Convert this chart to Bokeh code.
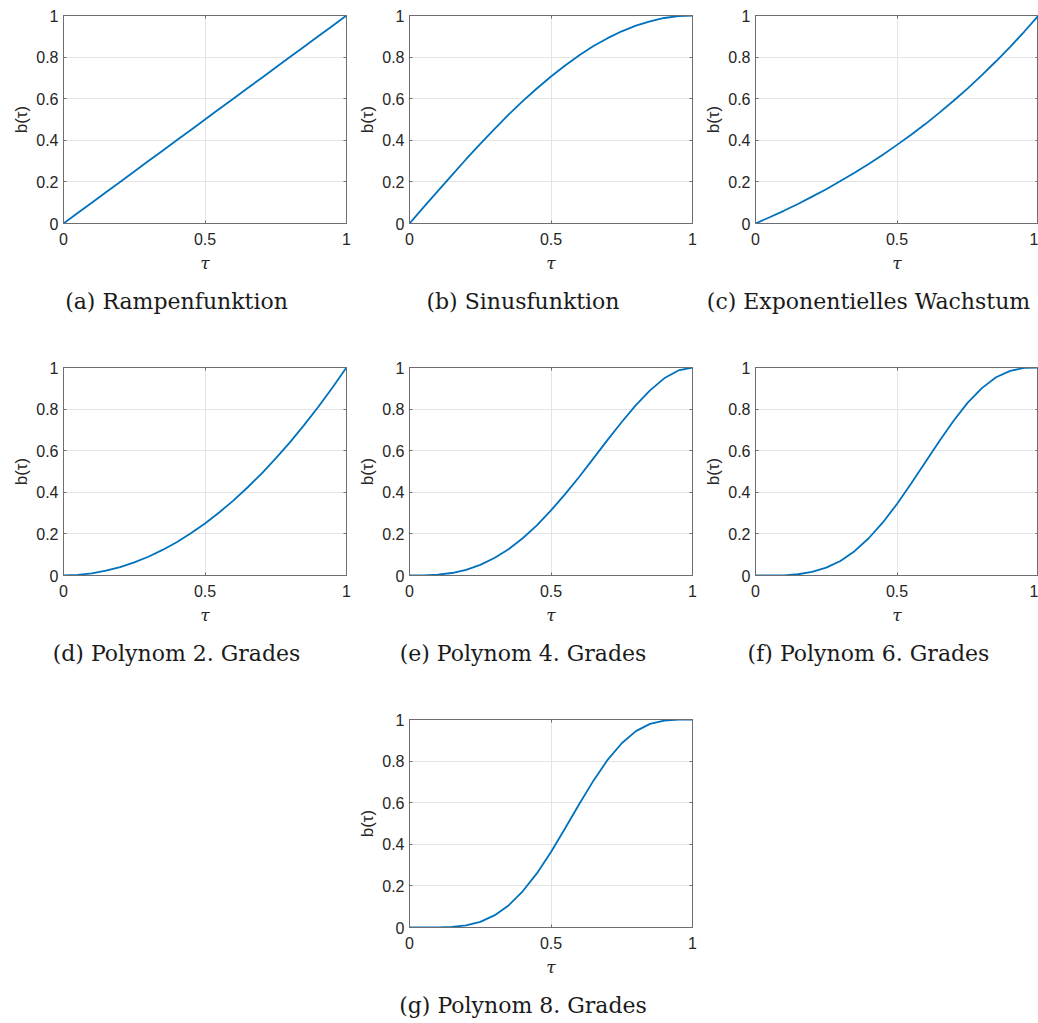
from bokeh.plotting import figure
from bokeh.models import Range1d, LinearAxis, FixedTicker, Spacer, Div
from bokeh.layouts import row, column
from bokeh.embed import file_html
from bokeh.resources import INLINE

# ---- data -------------------------------------------------------------
tau = [0.00, 0.05, 0.10, 0.15, 0.20, 0.25, 0.30, 0.35, 0.40, 0.45, 0.50,
       0.55, 0.60, 0.65, 0.70, 0.75, 0.80, 0.85, 0.90, 0.95, 1.00]

ramp = [0.00, 0.05, 0.10, 0.15, 0.20, 0.25, 0.30, 0.35, 0.40, 0.45, 0.50,
        0.55, 0.60, 0.65, 0.70, 0.75, 0.80, 0.85, 0.90, 0.95, 1.00]

sinus = [0.000, 0.079, 0.156, 0.233, 0.309, 0.383, 0.454, 0.523, 0.588, 0.649, 0.707,
         0.760, 0.809, 0.853, 0.891, 0.924, 0.951, 0.972, 0.988, 0.997, 1.000]

expo = [0.000, 0.030, 0.061, 0.094, 0.129, 0.165, 0.204, 0.244, 0.286, 0.331, 0.378,
        0.427, 0.478, 0.533, 0.590, 0.650, 0.713, 0.780, 0.849, 0.923, 1.000]

poly2 = [0.000, 0.003, 0.010, 0.023, 0.040, 0.063, 0.090, 0.123, 0.160, 0.203, 0.250,
         0.303, 0.360, 0.423, 0.490, 0.563, 0.640, 0.723, 0.810, 0.903, 1.000]

poly4 = [0.000, 0.000, 0.004, 0.012, 0.027, 0.051, 0.084, 0.126, 0.179, 0.241, 0.313,
         0.391, 0.475, 0.563, 0.652, 0.738, 0.819, 0.890, 0.948, 0.986, 1.000]

poly6 = [0.000, 0.000, 0.001, 0.006, 0.017, 0.038, 0.070, 0.117, 0.179, 0.255, 0.344,
         0.442, 0.544, 0.647, 0.744, 0.831, 0.901, 0.953, 0.984, 0.998, 1.000]

poly8 = [0.000, 0.000, 0.000, 0.003, 0.010, 0.027, 0.058, 0.106, 0.174, 0.260, 0.363,
         0.477, 0.594, 0.706, 0.806, 0.886, 0.944, 0.979, 0.995, 1.000, 1.000]

captions = ["(a) Rampenfunktion", "(b) Sinusfunktion", "(c) Exponentielles Wachstum",
            "(d) Polynom 2. Grades", "(e) Polynom 4. Grades", "(f) Polynom 6. Grades",
            "(g) Polynom 8. Grades"]

x_ticks = [0, 0.5, 1]
x_tick_labels = ["0", "0.5", "1"]
y_ticks = [0, 0.2, 0.4, 0.6, 0.8, 1]
y_tick_labels = ["0", "0.2", "0.4", "0.6", "0.8", "1"]

x_label = "τ"
y_label = "b(τ)"

# ---- styling ----------------------------------------------------------
LINE = "#0072BD"
FRAME = "#6e6e6e"
TXT = "#262626"
GRID = "#e4e4e4"
FRAME_W = 283
FRAME_H = 208
FIG_H = 288


def panel(yvals, left, right):
    width = left + FRAME_W + right
    p = figure(width=width, height=FIG_H,
               x_range=Range1d(0, 1), y_range=Range1d(0, 1),
               output_backend="svg", toolbar_location=None,
               min_border_left=left, min_border_right=right,
               min_border_top=15, min_border_bottom=FIG_H - 15 - FRAME_H)
    p.outline_line_color = FRAME
    p.background_fill_color = "white"
    p.border_fill_color = "white"

    p.line(tau, yvals, line_color=LINE, line_width=1.8)

    for ax, ticks, labels in ((p.xaxis[0], x_ticks, x_tick_labels),
                              (p.yaxis[0], y_ticks, y_tick_labels)):
        ax.ticker = FixedTicker(ticks=ticks)
        ax.major_label_overrides = {t: l for t, l in zip(ticks, labels)}
        ax.major_tick_in = 3
        ax.major_tick_out = 0
        ax.minor_tick_in = 0
        ax.minor_tick_out = 0
        ax.axis_line_color = FRAME
        ax.major_tick_line_color = FRAME
        ax.major_label_text_font = "Liberation Sans"
        ax.major_label_text_font_size = "16px"
        ax.major_label_text_color = TXT

    p.xaxis.major_label_standoff = 9
    p.yaxis.major_label_standoff = 5
    p.xaxis.axis_label = x_label
    p.xaxis.axis_label_text_font = "DejaVu Serif"
    p.xaxis.axis_label_text_font_style = "italic"
    p.xaxis.axis_label_text_font_size = "17px"
    p.xaxis.axis_label_text_color = TXT
    p.xaxis.axis_label_standoff = 5
    p.yaxis.axis_label = y_label
    p.yaxis.axis_label_text_font = "Liberation Sans"
    p.yaxis.axis_label_text_font_style = "normal"
    p.yaxis.axis_label_text_font_size = "17px"
    p.yaxis.axis_label_text_color = TXT
    p.yaxis.axis_label_standoff = 2

    for side, ticks in (("above", x_ticks), ("right", y_ticks)):
        ax = LinearAxis(ticker=FixedTicker(ticks=ticks),
                        major_label_text_font_size="0px",
                        major_label_text_color=None,
                        major_label_standoff=0,
                        major_tick_in=3, major_tick_out=0,
                        minor_tick_in=0, minor_tick_out=0,
                        axis_line_color=FRAME, major_tick_line_color=FRAME)
        p.add_layout(ax, side)

    p.xgrid.ticker = FixedTicker(ticks=x_ticks)
    p.ygrid.ticker = FixedTicker(ticks=y_ticks)
    p.xgrid.grid_line_color = GRID
    p.ygrid.grid_line_color = GRID
    return p


def caption(text, width, height):
    return Div(text=text, width=width, height=height, margin=0,
               styles={"font-family": "DejaVu Serif", "font-size": "22px",
                       "line-height": "28px", "text-align": "center",
                       "white-space": "nowrap", "color": "#1a1a1a",
                       "overflow": "visible"})


CAP_H = 64
CAP_H_LAST = 31

pa = panel(ramp, 63, 7)
pb = panel(sinus, 56, 7)
pc = panel(expo, 56, 0)
pd = panel(poly2, 63, 7)
pe = panel(poly4, 56, 7)
pf = panel(poly6, 56, 0)
pg = panel(poly8, 56, 7)

r1 = row(column(pa, caption(captions[0], 353, CAP_H)),
         column(pb, caption(captions[1], 340, CAP_H)),
         column(pc, caption(captions[2], 339, CAP_H)))
r2 = row(column(pd, caption(captions[3], 353, CAP_H)),
         column(pe, caption(captions[4], 340, CAP_H)),
         column(pf, caption(captions[5], 339, CAP_H)))
r3 = row(Spacer(width=353, height=FIG_H + CAP_H_LAST),
         column(pg, caption(captions[6], 340, CAP_H_LAST)))

layout = column(r1, r2, r3)

open("out.html", "w").write(file_html(layout, INLINE))
